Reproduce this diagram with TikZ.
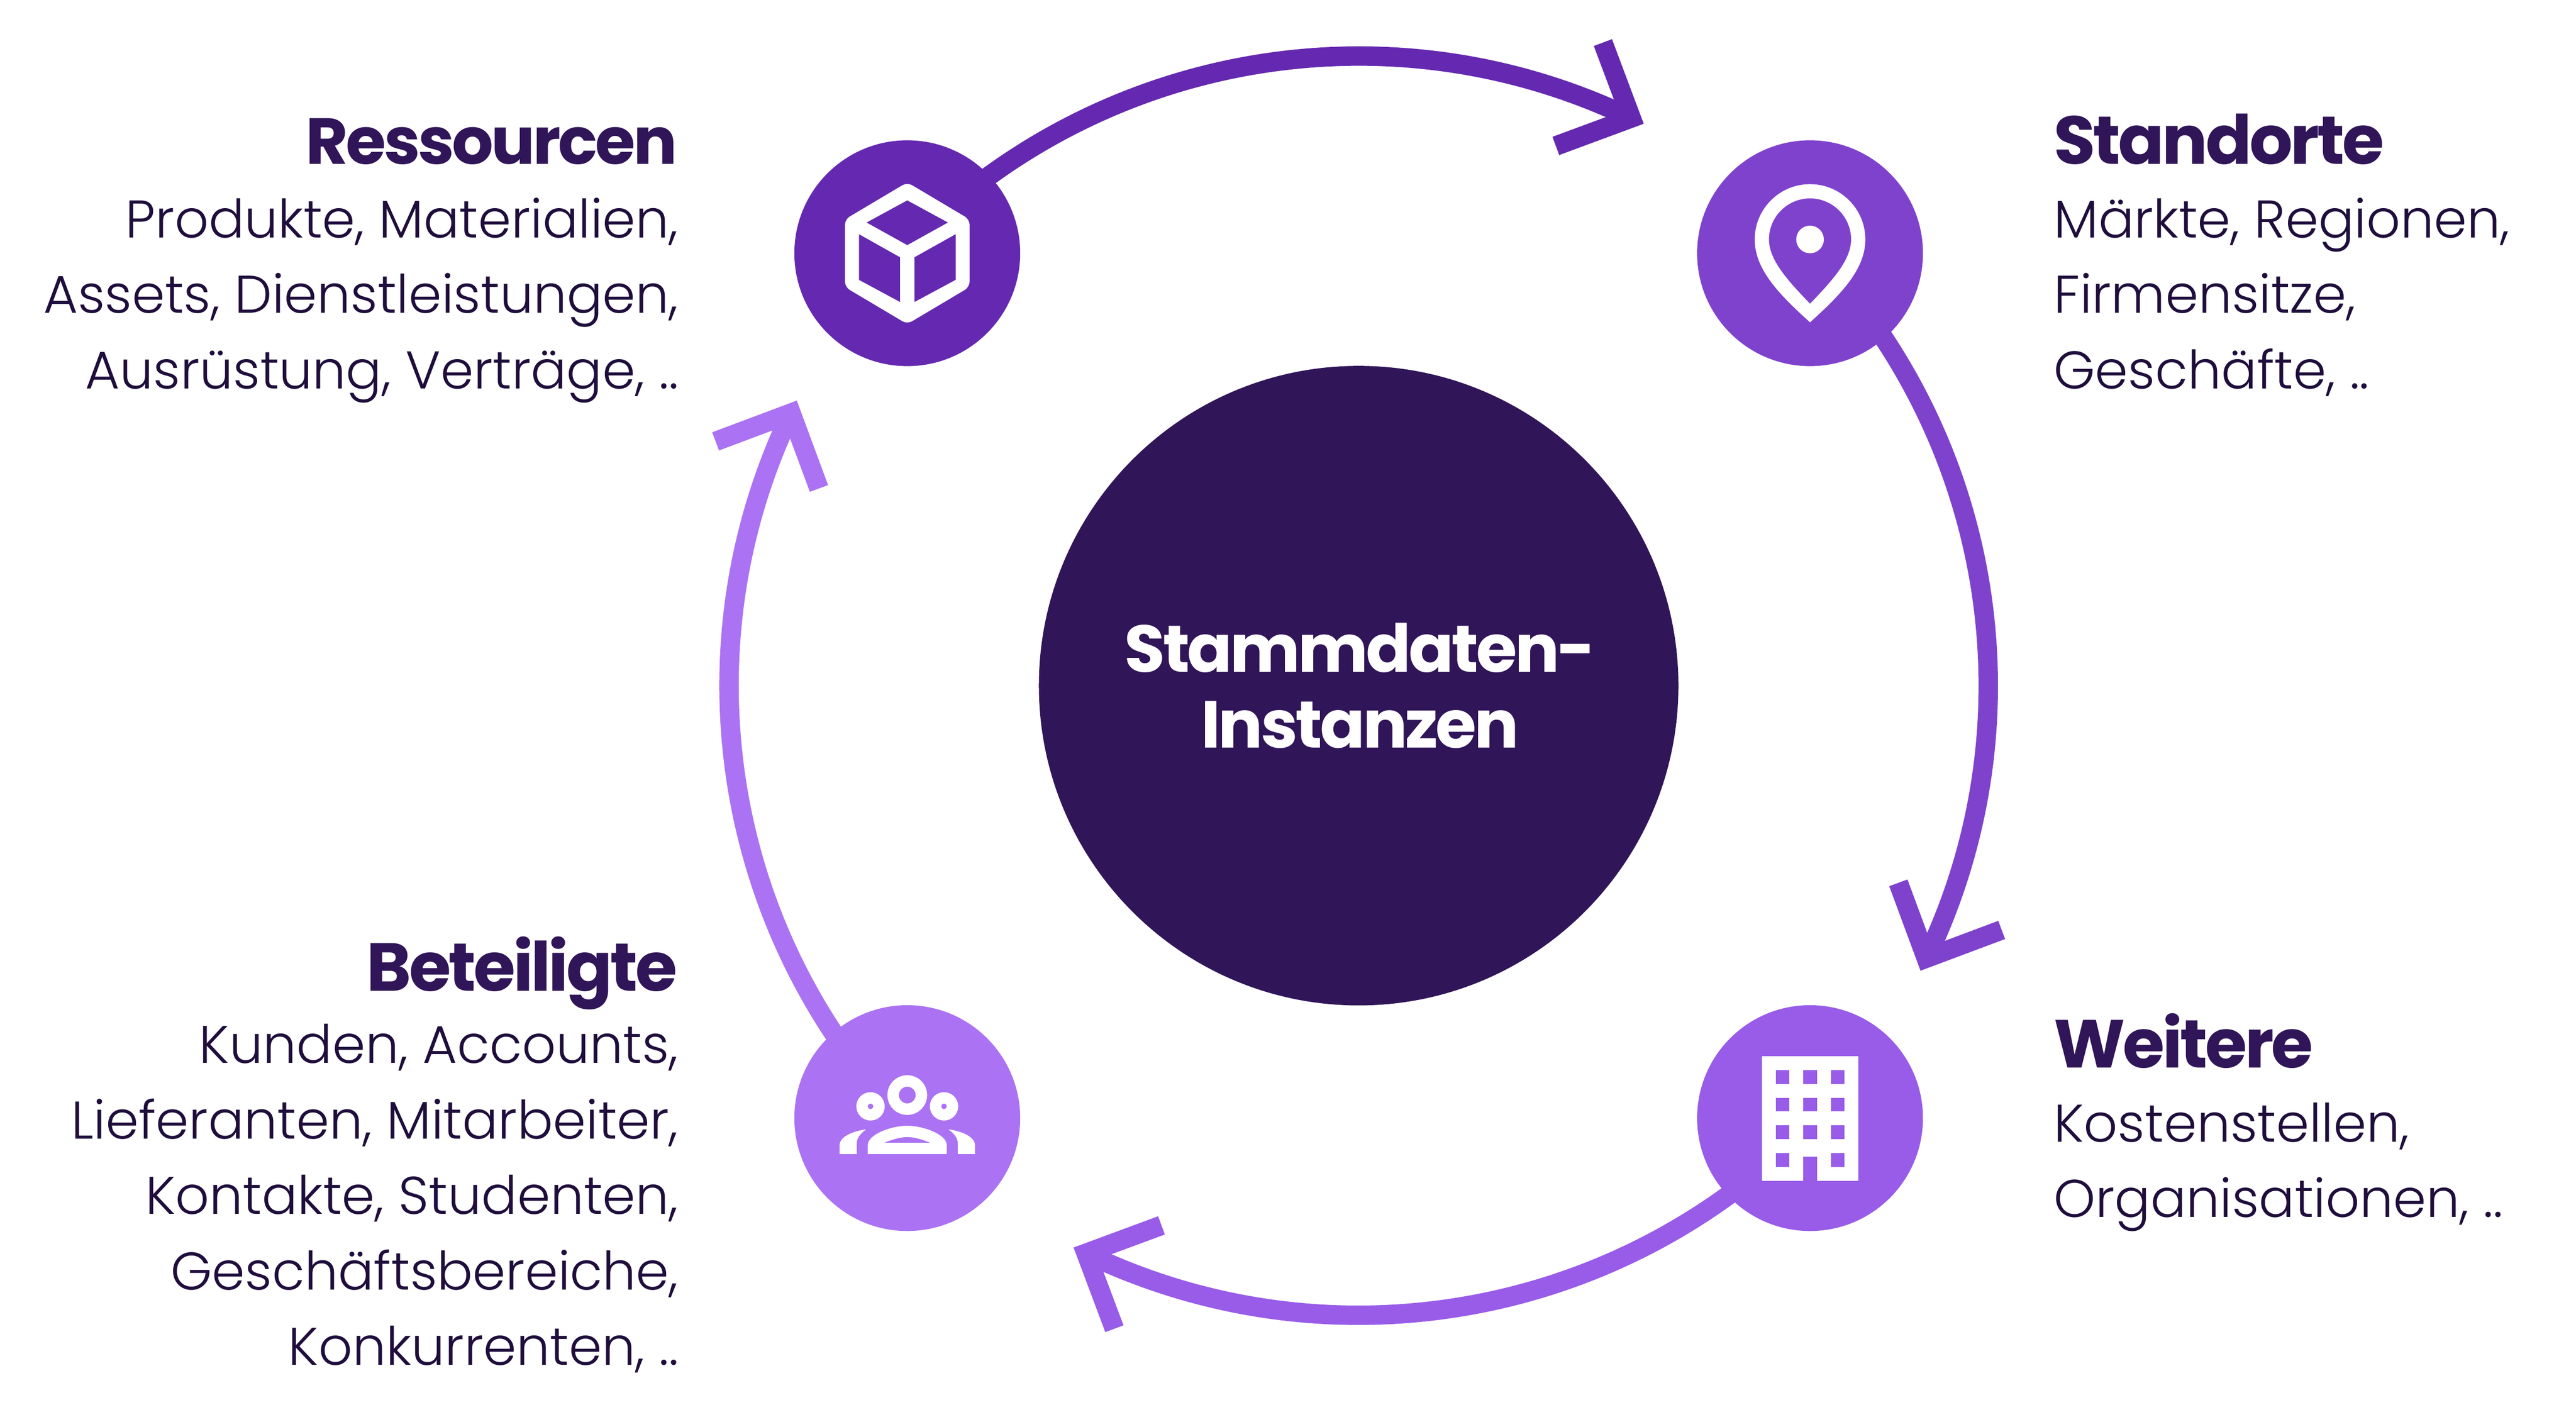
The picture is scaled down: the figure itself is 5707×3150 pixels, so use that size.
\documentclass[tikz,border=0pt]{standalone}
\usepackage{fontspec}
\usetikzlibrary{calc}
\setmainfont{Poppins}
\newfontfamily\bodyfont[UprightFont=* Light]{Poppins}
\newfontfamily\titlefont[UprightFont=* Bold,LetterSpace=-3.5]{Poppins}
\definecolor{cdark}{HTML}{301558}
\definecolor{cink}{HTML}{1F0E3C}
\definecolor{ca}{HTML}{6429B0}
\definecolor{cb}{HTML}{7F42CD}
\definecolor{cc}{HTML}{985CE8}
\definecolor{cd}{HTML}{AB73F3}
\tikzset{
  stage/.style={circle,minimum size=5cm,inner sep=0pt,outer sep=0pt},
  ring/.style={line width=0.43cm,line cap=butt,line join=miter,miter limit=10},
  heading/.style={inner sep=0pt,outer sep=0pt,text=cdark,font=\titlefont\fontsize{42.8}{50}\selectfont},
  lhead/.style={heading,anchor=base east},
  rhead/.style={heading,anchor=base west},
  lbody/.style={inner sep=0pt,outer sep=0pt,text=cink,font=\bodyfont\fontsize{33.4}{47.5}\selectfont,align=right,anchor=base east},
  rbody/.style={inner sep=0pt,outer sep=0pt,text=cink,font=\bodyfont\fontsize{33.4}{47.5}\selectfont,align=left,anchor=base west}
}
\newcommand\ringarrow[5]{%
  \coordinate (#1tip) at ($(ctr)+(#4:1395)$);
  \draw[ring,#2] ($(#1.center)+(#3:10)$) .. controls ($(#1.center)+(#3:10)+(#3-90:#5)$) and ($(#1tip)+(#4+90:#5)$) .. (#1tip);
  \draw[ring,#2] ($(ctr)+(#4+4.85:1524)$) -- (#1tip) -- ($(ctr)+(#4+5.58:1273)$);
}
\begin{document}
\begin{tikzpicture}[x=0.01cm,y=0.01cm]
\useasboundingbox (0,0) rectangle (5707,3150);
\coordinate (ctr) at (3010,1631);
\node[stage,fill=ca] (res) at (2010,2589) {};
\node[stage,fill=cb] (loc) at (4010,2589) {};
\node[stage,fill=cc] (wei) at (4010,673) {};
\node[stage,fill=cd] (bet) at (2010,673) {};
\ringarrow{res}{ca}{136.2}{64.35}{603}
\ringarrow{loc}{cb}{43.8}{-25.65}{581}
\ringarrow{wei}{cc}{-43.8}{-115.65}{603}
\ringarrow{bet}{cd}{-136.2}{-205.65}{581}
% cube
\begin{scope}[shift={(res.center)}]
  \fill[white,rounded corners=0.12cm] (0,157)--(138,75)--(138,-75)--(0,-157)--(-138,-75)--(-138,75)--cycle;
  \fill[ca] (0,117)--(90,68)--(0,18)--(-90,68)--cycle;
  \fill[ca] (-107,42)--(-16,-9)--(-16,-108)--(-107,-59)--cycle;
  \fill[ca] (107,42)--(16,-9)--(16,-108)--(107,-59)--cycle;
\end{scope}
% pin
\begin{scope}[shift={(loc.center)}]
  \fill[white,even odd rule] (0,153) .. controls (67.6,153) and (122.5,98) .. (122.5,30.5) .. controls (122.5,-35) and (70,-90) .. (0,-153) .. controls (-70,-90) and (-122.5,-35) .. (-122.5,30.5) .. controls (-122.5,98) and (-67.6,153) .. (0,153) -- cycle
  (0,121.5) .. controls (50.3,121.5) and (91,80.8) .. (91,30.5) .. controls (91,-15) and (50,-60) .. (0,-112) .. controls (-50,-60) and (-91,-15) .. (-91,30.5) .. controls (-91,80.8) and (-50.3,121.5) .. (0,121.5) -- cycle;
  \fill[white] (0,30.5) circle[radius=30.6];
\end{scope}
% building
\begin{scope}[shift={(wei.center)}]
  \fill[white] (-107,137) rectangle (107,-138.6);
  \foreach \xx in {-76,-15,46}{
    \foreach \yy in {106,45,-16}{
      \fill[cc] (\xx,\yy) rectangle ++(30.5,-30.5);
    }
  }
  \fill[cc] (-76,-77) rectangle ++(30.5,-31);
  \fill[cc] (46,-77) rectangle ++(30.5,-31);
  \fill[cc] (-15.2,-85) rectangle (15.2,-139);
\end{scope}
% people
\begin{scope}[shift={(bet.center)}]
  \fill[white,even odd rule] (0,51) circle[radius=44] (0,51) circle[radius=18.6];
  \fill[white,even odd rule] (-81.4,26) circle[radius=31.4] (-81.4,26) circle[radius=6.3];
  \fill[white,even odd rule] (81.4,26) circle[radius=31.4] (81.4,26) circle[radius=6.3];
  \fill[white,even odd rule] (-87.5,-79.7) -- (-87.5,-60) .. controls (-87.5,-36) and (-35,-17) .. (0,-17) .. controls (35,-17) and (87.5,-36) .. (87.5,-60) -- (87.5,-79.7) -- cycle
    (-51,-54.7) .. controls (-33,-47) and (-15,-42) .. (0,-42) .. controls (15,-42) and (33,-47) .. (51,-54.7) -- cycle;
  \fill[white] (-150,-79.7) -- (-150,-60) .. controls (-150,-42) and (-122,-29) .. (-91,-25) .. controls (-103,-33) and (-112,-44) .. (-112,-56) -- (-112,-79.7) -- cycle;
  \fill[white] (150,-79.7) -- (150,-60) .. controls (150,-42) and (122,-29) .. (91,-25) .. controls (103,-33) and (112,-44) .. (112,-56) -- (112,-79.7) -- cycle;
\end{scope}
% centre
\node[circle,fill=cdark,minimum size=14.16cm,inner sep=0pt,outer sep=0pt,text=white,align=center,font=\titlefont\fontsize{41.8}{47.6}\selectfont] (mid) at (ctr) {\kern0.06cm Stammdaten-\\\kern0.06cm Instanzen};
% texts
\node[lhead,font=\titlefont\fontsize{41}{50}\selectfont] (t1) at (1500,2786) {Ressourcen};
\node[lbody] (b1) at (1503,2289) {Produkte, Materialien,\\Assets, Dienstleistungen,\\Ausrüstung, Verträge, ..};
\node[rhead] (t2) at (4550,2786) {Standorte};
\node[rbody] (b2) at (4550,2289) {Märkte, Regionen,\\Firmensitze,\\Geschäfte, ..};
\node[lhead] (t3) at (1500,955) {Beteiligte};
\node[lbody] (b3) at (1503,126) {Kunden, Accounts,\\Lieferanten, Mitarbeiter,\\Kontakte, Studenten,\\Geschäftsbereiche,\\Konkurrenten, ..};
\node[rhead] (t4) at (4550,784) {Weitere};
\node[rbody] (b4) at (4550,453) {Kostenstellen,\\Organisationen, ..};
\end{tikzpicture}
\end{document}
